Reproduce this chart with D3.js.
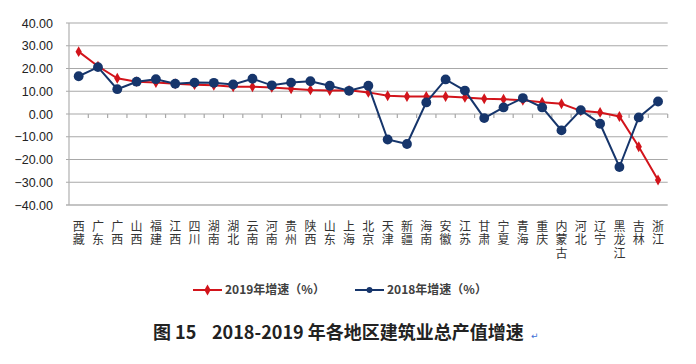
<!DOCTYPE html>
<html>
<head>
<meta charset="utf-8">
<script src="https://cdn.jsdelivr.net/npm/d3@7"></script>
<style>
  body { margin: 0; background: #fff; }
  svg { display: block; }
  text { fill: #222; }
</style>
</head>
<body>
<div id="chart"></div>
<script>
// 地区（横轴类别）
const regions = ["西藏", "广东", "广西", "山西", "福建", "江西", "四川", "湖南", "湖北", "云南",
    "河南", "贵州", "陕西", "山东", "上海", "北京", "天津", "新疆", "海南", "安徽",
    "江苏", "甘肃", "宁夏", "青海", "重庆", "内蒙古", "河北", "辽宁", "黑龙江", "吉林", "浙江"];

// 2019年增速（%）
const growth2019 = [27.4, 21.0, 15.7, 14.2, 13.8, 13.3, 12.9, 12.6, 12.0, 12.0,
    11.7, 11.1, 10.6, 10.3, 10.4, 9.5, 8.0, 7.7, 7.7, 7.7,
    7.3, 6.7, 6.5, 6.0, 5.2, 4.5, 1.4, 0.7, -1.1, -14.4, -29.0];

// 2018年增速（%）
const growth2018 = [16.6, 20.6, 10.9, 14.2, 15.3, 13.3, 13.8, 13.7, 13.0, 15.5,
    12.6, 13.8, 14.4, 12.4, 10.2, 12.4, -11.2, -13.2, 5.1, 15.2,
    10.3, -1.8, 2.9, 7.0, 2.9, -7.2, 1.7, -4.3, -23.3, -1.5, 5.5];

const yTicks = [40, 30, 20, 10, 0, -10, -20, -30, -40];

const seriesNames = ["2019年增速（%）", "2018年增速（%）"];
const titleNo = "图 15";
const titleText = "2018-2019 年各地区建筑业总产值增速";

const width = 696, height = 364;
const red = "#d2141b", blue = "#16356b";

const svg = d3.select("#chart").append("svg")
    .attr("width", width)
    .attr("height", height);

// 比例尺
const x = d3.scaleBand().domain(regions).range([69, 667.7]).padding(0);
const y = d3.scaleLinear().domain([-40, 40]).range([205, 23]);
const cx = d => x(d) + x.bandwidth() / 2;

// 网格线
svg.append("g")
    .selectAll("line")
    .data(yTicks)
    .join("line")
    .attr("x1", 66)
    .attr("x2", 667.7)
    .attr("y1", d => y(d))
    .attr("y2", d => y(d))
    .attr("stroke", d => d === -40 ? "#c4c4c4" : "#a8a8a8")
    .attr("stroke-width", d => d === -40 ? 2 : 1.2);

// 纵轴线
svg.append("line")
    .attr("x1", 69).attr("x2", 69)
    .attr("y1", y(40)).attr("y2", y(-40))
    .attr("stroke", "#b0b0b0")
    .attr("stroke-width", 1.2);

// 纵轴标签
svg.append("g")
    .selectAll("text")
    .data(yTicks)
    .join("text")
    .attr("x", 53)
    .attr("y", d => y(d))
    .attr("dy", "0.36em")
    .attr("text-anchor", "end")
    .style("font-family", "'Liberation Sans', Arial, sans-serif")
    .style("font-size", "12.5px")
    .text(d => d3.format(".2f")(d));

// 0 轴上的刻度线（类别分界）
const bounds = regions.map(d => x(d)).slice(1).concat([x.range()[1]]);
svg.append("g")
    .selectAll("line")
    .data(bounds)
    .join("line")
    .attr("x1", d => d).attr("x2", d => d)
    .attr("y1", y(0)).attr("y2", y(0) + 4)
    .attr("stroke", "#a8a8a8")
    .attr("stroke-width", 1.2);

// 横轴标签（竖排）
svg.append("g")
    .selectAll("text")
    .data(regions)
    .join("text")
    .attr("x", d => cx(d))
    .attr("y", 220)
    .style("writing-mode", "vertical-rl")
    .style("letter-spacing", "1.5px")
    .style("font-family", "'Noto Sans CJK SC', sans-serif")
    .style("font-size", "12px")
    .style("fill", "#333")
    .text(d => d);

// 折线
const line = d3.line().x((d, i) => cx(regions[i])).y(d => y(d));

function drawSeries(values, color, marker) {
    const g = svg.append("g");
    g.append("path")
        .datum(values)
        .attr("fill", "none")
        .attr("stroke", color)
        .attr("stroke-width", 2)
        .attr("d", line);
    g.selectAll("path.m")
        .data(values)
        .join("path")
        .attr("class", "m")
        .attr("transform", (d, i) => `translate(${cx(regions[i])},${y(d)})`)
        .attr("d", marker)
        .attr("fill", color);
}

const diamond = d3.symbol().type(d3.symbolDiamond).size(34)();
const circle = d3.symbol().type(d3.symbolCircle).size(76)();

drawSeries(growth2019, red, diamond);
drawSeries(growth2018, blue, circle);

// 图例
const legend = [
    { name: seriesNames[0], color: red, marker: diamond, x: 193 },
    { name: seriesNames[1], color: blue, marker: d3.symbol().type(d3.symbolCircle).size(26)(), x: 355 }
];
const lg = svg.append("g")
    .selectAll("g")
    .data(legend)
    .join("g")
    .attr("transform", d => `translate(${d.x},290)`);
lg.append("line")
    .attr("x1", 0).attr("x2", 29)
    .attr("stroke", d => d.color)
    .attr("stroke-width", 2);
lg.append("path")
    .attr("transform", "translate(14.5,0)")
    .attr("d", d => d.marker)
    .attr("fill", d => d.color);
lg.append("text")
    .attr("x", 32)
    .attr("dy", "0.36em")
    .style("font-family", "'Noto Sans CJK SC', sans-serif")
    .style("font-size", "12px")
    .style("font-weight", "bold")
    .style("fill", "#404040")
    .text(d => d.name);

// 图题
svg.append("text")
    .attr("x", 153).attr("y", 339)
    .style("font-family", "'Noto Sans CJK SC', sans-serif")
    .style("font-size", "18px")
    .style("font-weight", "bold")
    .text(titleNo);
svg.append("text")
    .attr("x", 212).attr("y", 339)
    .style("font-family", "'Noto Sans CJK SC', sans-serif")
    .style("font-size", "18px")
    .style("font-weight", "bold")
    .text(titleText);
svg.append("text")
    .attr("x", 531).attr("y", 339)
    .style("font-family", "'DejaVu Sans', sans-serif")
    .style("font-size", "9px")
    .style("fill", "#3b6fd6")
    .text("↵");
</script>
</body>
</html>
